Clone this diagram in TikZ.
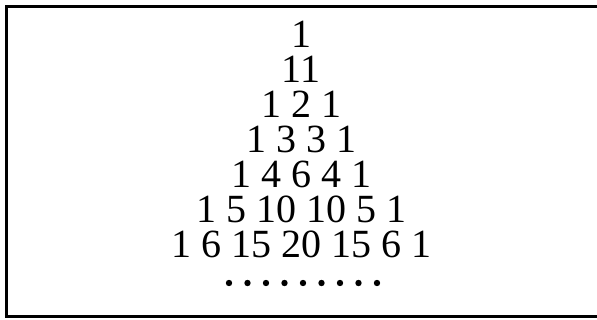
\documentclass[tikz,border=0pt]{standalone}
\usepackage{fontspec}
\setmainfont{Liberation Serif}
\begin{document}
\begin{tikzpicture}[x=1pt,y=-1pt]
        \tikzset{rowtext/.style={anchor=base,inner sep=0pt,text height=27pt,text depth=0pt,font=\fontsize{40}{40}\selectfont}}
        \useasboundingbox (0,0) rectangle (597,320);
        \draw[line width=3pt] (6,7) rectangle (603,317);
        \foreach \nums [count=\i] in {
          1,
          11,
          1 2 1,
          1 3 3 1,
          1 4 6 4 1,
          1 5 10 10 5 1,
          1 6 15 20 15 6 1}
        {
          \node[rowtext] (row\i) at (301,13+35*\i) {\nums};
        }
        \foreach \k in {0,...,8}
          \fill (229+18.5*\k,283) circle (3.2);
      \end{tikzpicture}
\end{document}
